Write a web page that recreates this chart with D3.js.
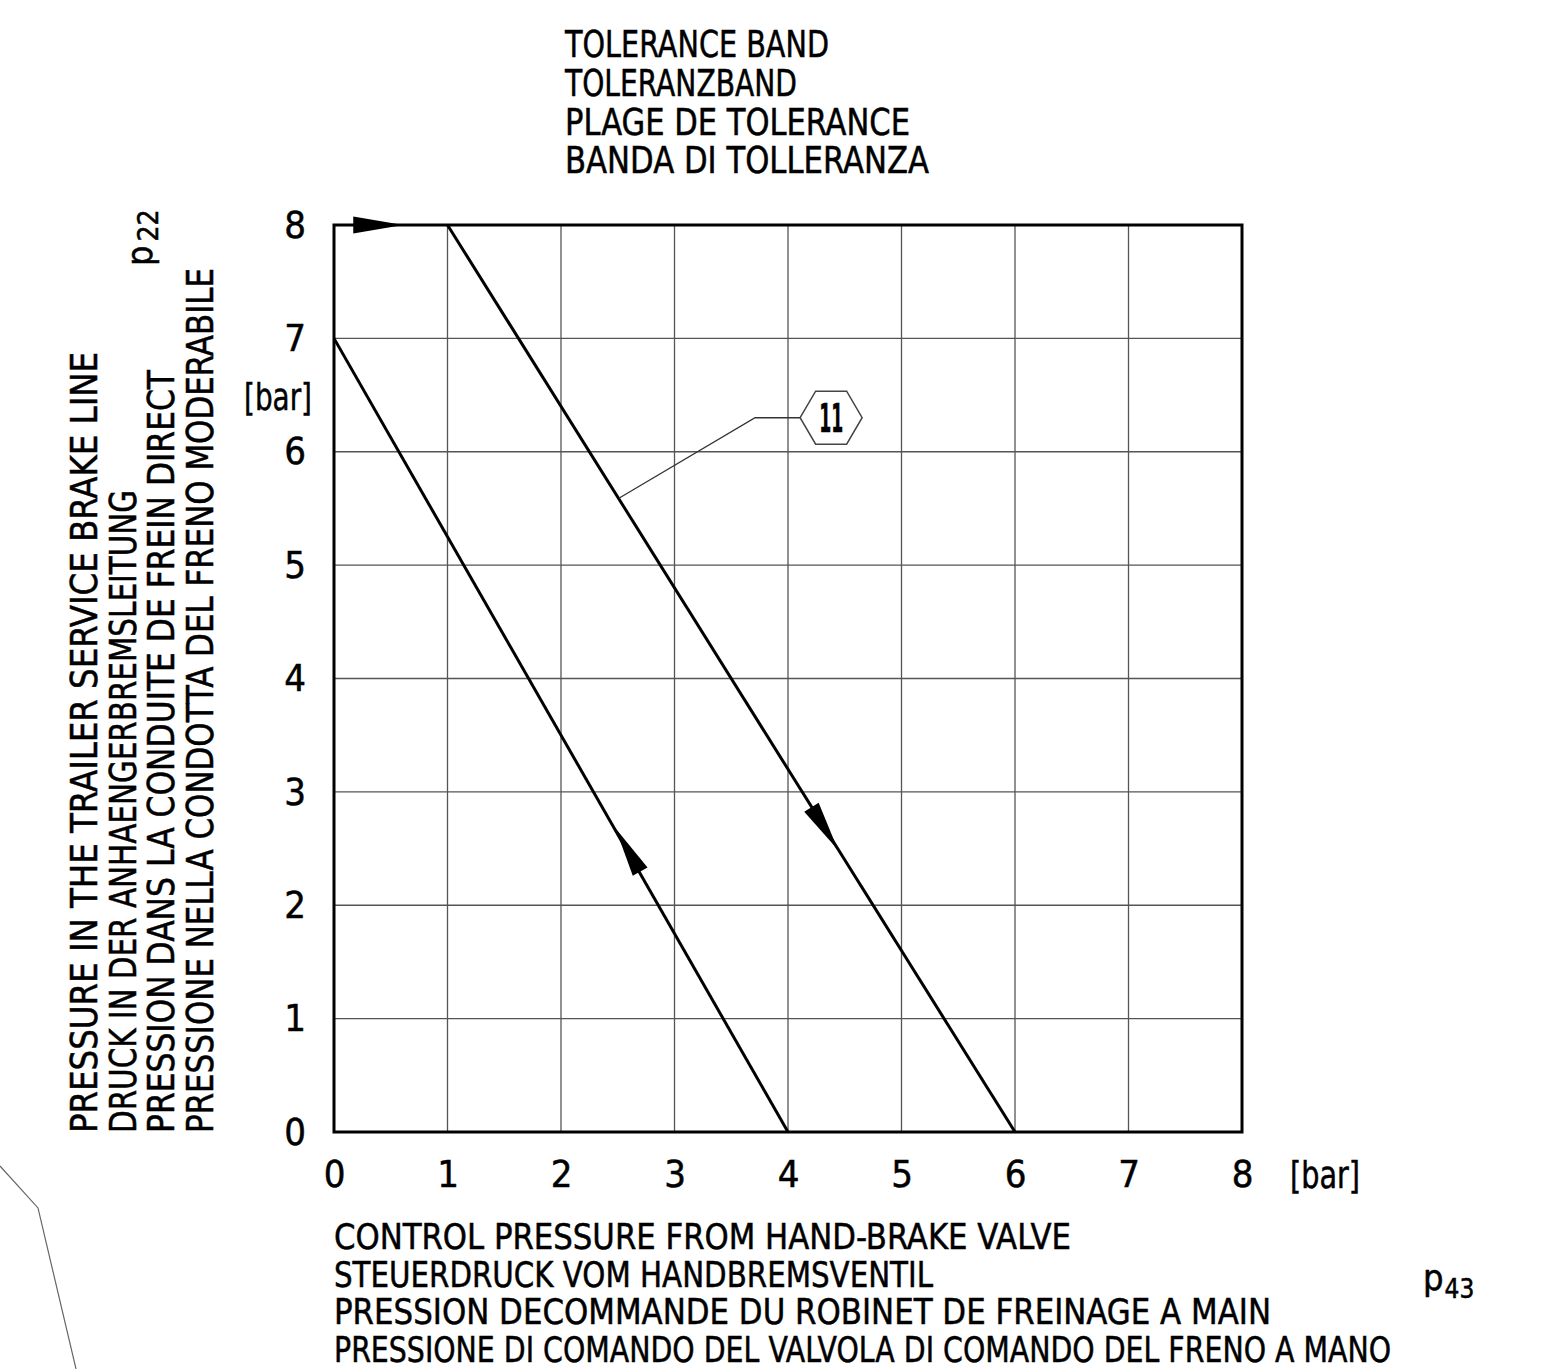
<!DOCTYPE html>
<html>
<head>
<meta charset="utf-8">
<script src="https://cdn.jsdelivr.net/npm/d3@7"></script>
<style>
  body { margin: 0; background: #fff; }
  svg text { font-family: "Liberation Sans Narrow", "DejaVu Sans Condensed", "Arial Narrow", sans-serif; fill: #000; stroke: #000; stroke-width: 0.5; }
</style>
</head>
<body>
<svg width="1560" height="1369"></svg>
<script>
// axis ticks
const xTicks = [0, 1, 2, 3, 4, 5, 6, 7, 8];
const yTicks = [0, 1, 2, 3, 4, 5, 6, 7, 8];

// the two limit lines of the band (control pressure, trailer pressure)
const lowerLimit = [[0, 7], [4, 0]];
const upperLimit = [[1, 8], [6, 0]];

// arrows: tip point and a point behind it on the same line
const arrows = [
    { tip: [0.61, 8], from: [0, 8] },
    { tip: [2.48, 2.68], from: [4, 0] },
    { tip: [4.44, 2.49], from: [1, 8] }
];

// callout "11" pointing at the upper limit
const callout = { label: "11", anchor: [2.51, 5.59], elbow: [3.71, 6.30], center: [4.38, 6.30] };

// stray drawing edge in the lower-left corner
const strayEdge = [[-2.943, -0.30], [-2.608, -0.67], [-2.273, -2.09]];

const titleLines = ["TOLERANCE BAND", "TOLERANZBAND", "PLAGE DE TOLERANCE", "BANDA DI TOLLERANZA"];
const yTitleLines = [
    "PRESSURE IN THE TRAILER SERVICE BRAKE LINE",
    "DRUCK IN DER ANHAENGERBREMSLEITUNG",
    "PRESSION DANS LA CONDUITE DE FREIN DIRECT",
    "PRESSIONE NELLA CONDOTTA DEL FRENO MODERABILE"
];
const xTitleLines = [
    "CONTROL PRESSURE FROM HAND-BRAKE VALVE",
    "STEUERDRUCK VOM HANDBREMSVENTIL",
    "PRESSION DECOMMANDE DU ROBINET DE FREINAGE A MAIN",
    "PRESSIONE DI COMANDO DEL VALVOLA DI COMANDO DEL FRENO A MANO"
];

// text widths as drawn (layout)
const titleWidths = [264, 232, 345, 364];
const yTitleWidths = [781, 643, 763, 865];
const xTitleWidths = [737, 599, 937, 1057];

const svg = d3.select("svg");

const x = d3.scaleLinear().domain([0, 8]).range([334, 1242]);
const y = d3.scaleLinear().domain([0, 8]).range([1132, 225]);

// grid
const grid = svg.append("g").attr("stroke", "#555").attr("stroke-width", 1.3);
grid.selectAll(".gx")
    .data(xTicks.slice(1, -1))
    .enter().append("line")
    .attr("x1", d => x(d)).attr("x2", d => x(d))
    .attr("y1", y(0)).attr("y2", y(8));
grid.selectAll(".gy")
    .data(yTicks.slice(1, -1))
    .enter().append("line")
    .attr("y1", d => y(d)).attr("y2", d => y(d))
    .attr("x1", x(0)).attr("x2", x(8));

// frame
svg.append("rect")
    .attr("x", x(0)).attr("y", y(8))
    .attr("width", x(8) - x(0)).attr("height", y(0) - y(8))
    .attr("fill", "none").attr("stroke", "#000").attr("stroke-width", 3);

// axes (labels only)
const xAxis = svg.append("g")
    .attr("transform", `translate(0,${y(0)})`)
    .call(d3.axisBottom(x).tickValues(xTicks).tickFormat(d3.format("d")).tickSize(0).tickPadding(28));
const yAxis = svg.append("g")
    .attr("transform", `translate(${x(0)},0)`)
    .call(d3.axisLeft(y).tickValues(yTicks).tickFormat(d3.format("d")).tickSize(0).tickPadding(28));
[xAxis, yAxis].forEach(a => {
    a.select(".domain").remove();
    a.selectAll("text")
        .attr("font-size", 38)
        .attr("font-family", null)
        .attr("fill", "#000");
});

svg.append("text")
    .attr("x", 1290).attr("y", 1188)
    .attr("font-size", 38)
    .attr("textLength", 70).attr("lengthAdjust", "spacingAndGlyphs")
    .text("[bar]");
svg.append("text")
    .attr("x", 244).attr("y", 410)
    .attr("font-size", 38)
    .attr("textLength", 68).attr("lengthAdjust", "spacingAndGlyphs")
    .text("[bar]");

// limit lines
const line = d3.line().x(d => x(d[0])).y(d => y(d[1]));
svg.selectAll(".limit")
    .data([lowerLimit, upperLimit])
    .enter().append("path")
    .attr("class", "limit")
    .attr("d", line)
    .attr("fill", "none")
    .attr("stroke", "#000")
    .attr("stroke-width", 3);

// arrowheads
svg.selectAll(".arrow")
    .data(arrows)
    .enter().append("path")
    .attr("class", "arrow")
    .attr("fill", "#000")
    .attr("d", d => {
        const tx = x(d.tip[0]), ty = y(d.tip[1]);
        const fx = x(d.from[0]), fy = y(d.from[1]);
        const len = Math.hypot(tx - fx, ty - fy);
        const ux = (tx - fx) / len, uy = (ty - fy) / len;
        const L = 50, w = 8.5;
        const bx = tx - ux * L, by = ty - uy * L;
        return `M${tx},${ty}L${bx - uy * w},${by + ux * w}L${bx + uy * w},${by - ux * w}Z`;
    });

// callout
const cg = svg.append("g");
cg.append("path")
    .attr("d", line([callout.anchor, callout.elbow, [callout.center[0], callout.center[1]]]))
    .attr("fill", "none").attr("stroke", "#333").attr("stroke-width", 1.3);
const cx = x(callout.center[0]), cy = y(callout.center[1]);
const hw = 31, hh = 26.5;
cg.append("path")
    .attr("d", `M${cx - hw},${cy}L${cx - hw / 2},${cy - hh}L${cx + hw / 2},${cy - hh}L${cx + hw},${cy}L${cx + hw / 2},${cy + hh}L${cx - hw / 2},${cy + hh}Z`)
    .attr("fill", "#fff").attr("stroke", "#444").attr("stroke-width", 1.5);
cg.append("text")
    .attr("x", cx - 12).attr("y", cy + 14)
    .attr("font-size", 39).attr("font-weight", "bold")
    .attr("textLength", 24).attr("lengthAdjust", "spacingAndGlyphs")
    .text(callout.label);

// stray edge
svg.append("path")
    .attr("d", line(strayEdge))
    .attr("fill", "none").attr("stroke", "#666").attr("stroke-width", 1.2);

// titles
svg.selectAll(".title")
    .data(titleLines)
    .enter().append("text")
    .attr("class", "title")
    .attr("x", 565)
    .attr("y", (d, i) => 57 + i * 38.8)
    .attr("font-size", 37)
    .attr("textLength", (d, i) => titleWidths[i])
    .attr("lengthAdjust", "spacingAndGlyphs")
    .text(d => d);

svg.selectAll(".xtitle")
    .data(xTitleLines)
    .enter().append("text")
    .attr("class", "xtitle")
    .attr("x", 334)
    .attr("y", (d, i) => 1249 + i * 37.5)
    .attr("font-size", 36)
    .attr("textLength", (d, i) => xTitleWidths[i])
    .attr("lengthAdjust", "spacingAndGlyphs")
    .text(d => d);

svg.selectAll(".ytitle")
    .data(yTitleLines)
    .enter().append("text")
    .attr("class", "ytitle")
    .attr("transform", (d, i) => `translate(${97 + i * 38.5},1133) rotate(-90)`)
    .attr("font-size", 37)
    .attr("textLength", (d, i) => yTitleWidths[i])
    .attr("lengthAdjust", "spacingAndGlyphs")
    .text(d => d);

// symbols
const p22 = svg.append("text")
    .attr("transform", "translate(152,266) rotate(-90)")
    .attr("font-size", 36);
p22.append("tspan").text("p");
p22.append("tspan").attr("dx", 4).attr("dy", 6).attr("font-size", 28).text("22");

const p43 = svg.append("text")
    .attr("x", 1423).attr("y", 1290)
    .attr("font-size", 36);
p43.append("tspan").text("p");
p43.append("tspan").attr("dx", 1).attr("dy", 8).attr("font-size", 26).text("43");
</script>
</body>
</html>
